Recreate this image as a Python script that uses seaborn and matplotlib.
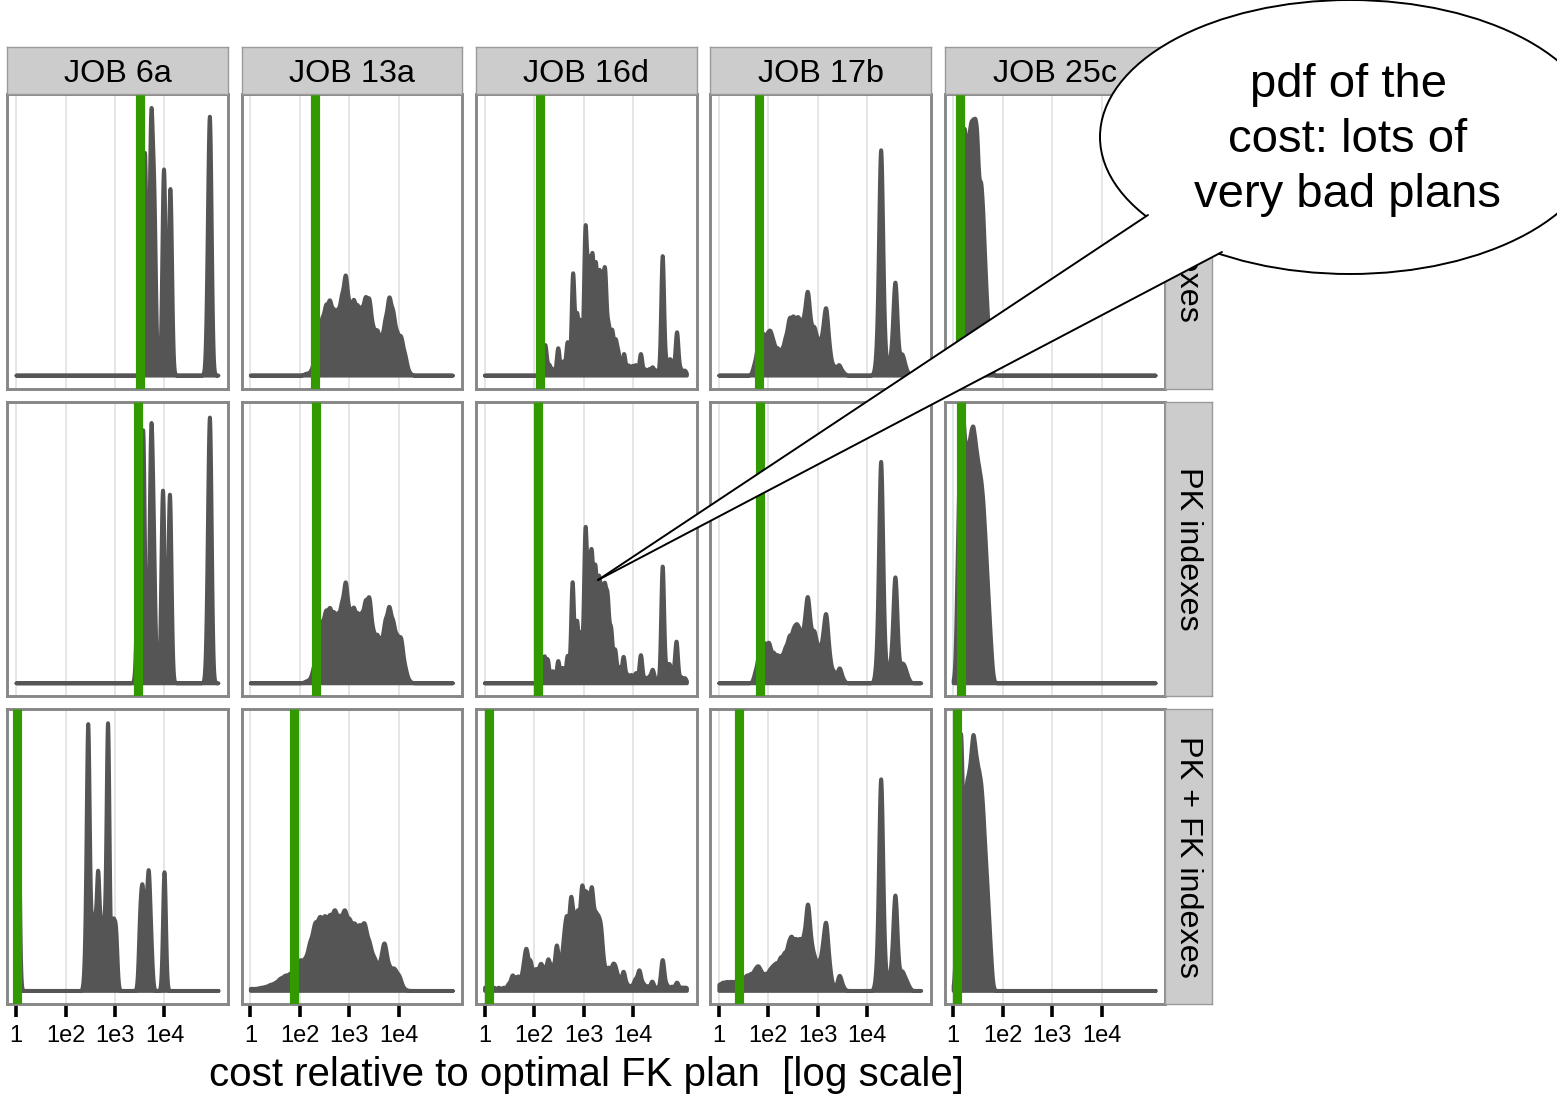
import numpy as np
import matplotlib
matplotlib.use("Agg")
import matplotlib.pyplot as plt
import seaborn as sns
from matplotlib.patches import Ellipse, Polygon
from matplotlib.lines import Line2D
from matplotlib.transforms import Affine2D

# ---------------------------------------------------------------- data
queries = ["JOB 6a", "JOB 13a", "JOB 16d", "JOB 17b", "JOB 25c"]
index_configs = ["No indexes", "PK indexes", "PK + FK indexes"]
tick_values = [0, 1, 2, 3]                 # positions on the log axis
tick_labels = ["1", "1e2", "1e3", "1e4"]
x_title = "cost relative to optimal FK plan  [log scale]"
callout_text = "pdf of the\ncost: lots of\nvery bad plans"

# cost of the plan that was picked (green line), one value per query
chosen_none = [2.515, 1.307, 1.131, 0.818, 0.131]
chosen_pk = [2.455, 1.323, 1.081, 0.838, 0.160]
chosen_pkfk = [0.010, 0.889, 0.081, 0.414, 0.071]

# kernel bandwidth of each density (log units)
bw_none = [0.033, 0.04, 0.03, 0.04, 0.025]
bw_pk = [0.033, 0.04, 0.03, 0.04, 0.025]
bw_pkfk = [0.03, 0.05, 0.035, 0.04, 0.025]

# plan cost clusters (log10 of relative cost) and their weights
# --- JOB 6a
pos_6a_none = [2.595, 2.72, 2.785, 2.98, 3.11, 3.875, 3.915]
w_6a_none = [228, 245, 160, 211, 191, 90, 215]
pos_6a_pk = [2.46, 2.56, 2.72, 2.775, 2.96, 3.10, 3.875, 3.915]
w_6a_pk = [110, 251, 226, 110, 192, 188, 85, 218]
pos_6a_pkfk = [0.03, 1.40, 1.45, 1.52, 1.58, 1.65, 1.72, 1.78, 1.85,
               1.95, 2.01, 2.50, 2.55, 2.61, 2.67, 2.72, 2.99]
w_6a_pkfk = [250, 30, 250, 50, 60, 110, 55, 50, 258,
             60, 55, 60, 80, 60, 100, 40, 116]
# --- JOB 13a
pos_13a_none = [1.12, 1.20, 1.28, 1.36, 1.44, 1.52, 1.60, 1.68, 1.76, 1.84,
                1.92, 2.00, 2.08, 2.16, 2.24, 2.32, 2.40, 2.48, 2.56, 2.64,
                2.72, 2.80, 2.88, 2.96, 3.04, 3.12, 3.20]
w_13a_none = [1.6, 2.2, 10.3, 32.2, 46.1, 57.6, 62.1, 52.6, 52.1, 63.8,
              86.4, 54.8, 62.5, 56.3, 53.8, 64.3, 64.2, 36.7, 37.4, 28.8,
              45.2, 66.8, 52.7, 33.7, 32.9, 17.2, 2.7]
pos_13a_pk = [1.12, 1.20, 1.28, 1.36, 1.44, 1.52, 1.60, 1.68, 1.76, 1.84,
              1.92, 2.00, 2.08, 2.16, 2.24, 2.32, 2.40, 2.48, 2.56, 2.64,
              2.72, 2.80, 2.88, 2.96, 3.04, 3.12, 3.20]
w_13a_pk = [1.5, 2.9, 13.0, 33.7, 47.9, 57.7, 59.8, 55.6, 54.0, 61.9,
            84.8, 54.2, 60.8, 54.5, 53.9, 65.6, 70.7, 38.8, 38.7, 32.1,
            50.3, 62.8, 48.9, 36.7, 38.0, 12.8, 2.1]
pos_13a_pkfk = [0.0, 0.1, 0.2, 0.3, 0.4, 0.5, 0.6, 0.7, 0.8, 0.9,
                1.0, 1.1, 1.2, 1.3, 1.4, 1.5, 1.6, 1.7, 1.8, 1.9,
                2.0, 2.1, 2.2, 2.3, 2.4, 2.5, 2.6, 2.7, 2.8, 2.9,
                3.0, 3.1]
w_13a_pkfk = [1.8, 1.5, 2.4, 3.0, 4.7, 6.1, 9.6, 11.9, 13.1, 17.0,
              24.3, 23.7, 37.6, 53.3, 57.3, 57.5, 57.9, 63.4, 56.3, 63.8,
              54.6, 51.8, 50.0, 54.1, 37.5, 25.1, 18.5, 41.5, 17.7, 17.8,
              12.4, 1.3]
# --- JOB 16d
pos_16d_none = [1.15, 1.22, 1.30, 1.37, 1.48, 1.58, 1.67, 1.78, 1.86, 1.93,
                2.03, 2.10, 2.17, 2.24, 2.31, 2.37, 2.43, 2.50, 2.57, 2.64,
                2.70, 2.81, 2.90, 2.98, 3.05, 3.15, 3.24, 3.32, 3.39, 3.47,
                3.59, 3.67, 3.74, 3.80, 3.88, 3.96, 4.04]
w_16d_none = [15, 30, 10, 6, 28, 14, 34, 103, 58, 52,
              146, 105, 112, 103, 90, 80, 95, 45, 42, 32,
              20, 22, 10, 9, 10, 22, 6, 6, 8, 5,
              122, 12, 15, 8, 44, 6, 5]
pos_16d_pk = [1.12, 1.20, 1.27, 1.37, 1.48, 1.57, 1.67, 1.77, 1.86, 1.94,
              2.03, 2.10, 2.16, 2.23, 2.30, 2.36, 2.42, 2.48, 2.55, 2.63,
              2.71, 2.80, 2.88, 2.96, 3.05, 3.15, 3.24, 3.32, 3.39, 3.47,
              3.59, 3.67, 3.73, 3.80, 3.87, 3.96, 4.04]
w_16d_pk = [12, 25, 22, 12, 22, 15, 27, 100, 60, 48,
            148, 100, 112, 105, 90, 75, 80, 75, 50, 32,
            15, 26, 8, 8, 10, 28, 5, 6, 13, 4,
            116, 12, 17, 8, 41, 6, 5]
pos_16d_pkfk = [0.0, 0.08, 0.18, 0.28, 0.38, 0.48, 0.56, 0.64, 0.70, 0.78,
                0.84, 0.92, 1.00, 1.06, 1.13, 1.20, 1.28, 1.36, 1.45, 1.53,
                1.60, 1.66, 1.74, 1.81, 1.88, 1.96, 2.03, 2.09, 2.16, 2.23,
                2.29, 2.35, 2.42, 2.50, 2.58, 2.64, 2.71, 2.80, 2.88, 2.96,
                3.04, 3.12, 3.20, 3.28, 3.38, 3.48, 3.59, 3.68, 3.78, 3.88,
                3.98, 4.06]
w_16d_pkfk = [3, 3, 3, 3, 3, 6, 14, 10, 10, 18,
              35, 26, 15, 15, 22, 18, 28, 22, 42, 22,
              40, 58, 80, 55, 65, 88, 70, 65, 85, 55,
              50, 48, 18, 20, 20, 18, 10, 18, 5, 4,
              10, 19, 6, 4, 9, 3, 30, 5, 4, 8,
              3, 3]
# --- JOB 17b
pos_17b_none = [0.72, 0.80, 0.88, 0.96, 1.03, 1.10, 1.18, 1.26, 1.34, 1.42,
                1.50, 1.58, 1.65, 1.72, 1.79, 1.86, 1.93, 2.01, 2.09, 2.16,
                2.23, 2.32, 2.42, 2.50, 3.20, 3.27, 3.34, 3.44, 3.50, 3.56,
                3.63, 3.70, 3.77]
w_17b_none = [10, 30, 35, 30, 34, 25, 22, 20, 30, 48,
              48, 45, 38, 40, 70, 32, 38, 28, 30, 58,
              20, 8, 10, 3, 20, 222, 20, 8, 15, 88,
              10, 18, 6]
pos_17b_pk = [0.74, 0.82, 0.90, 0.97, 1.02, 1.10, 1.18, 1.26, 1.34, 1.42,
              1.50, 1.57, 1.64, 1.72, 1.79, 1.86, 1.93, 2.01, 2.09, 2.16,
              2.23, 2.32, 2.43, 2.50, 3.20, 3.27, 3.34, 3.44, 3.50, 3.56,
              3.63, 3.70, 3.76, 3.82]
w_17b_pk = [10, 28, 32, 20, 26, 24, 22, 21, 28, 38,
            40, 42, 38, 40, 70, 33, 40, 28, 30, 58,
            20, 10, 14, 3, 20, 212, 20, 9, 16, 98,
            10, 14, 10, 3]
pos_17b_pkfk = [0.0, 0.08, 0.16, 0.24, 0.32, 0.40, 0.48, 0.56, 0.64, 0.72,
                0.79, 0.86, 0.94, 1.02, 1.09, 1.16, 1.24, 1.32, 1.40, 1.47,
                1.55, 1.63, 1.71, 1.79, 1.86, 1.93, 2.01, 2.09, 2.16, 2.23,
                2.32, 2.43, 2.50, 3.20, 3.27, 3.34, 3.44, 3.50, 3.56, 3.63,
                3.70, 3.77, 3.83]
w_17b_pkfk = [5, 6.5, 7, 7, 7, 8, 9.5, 12, 13, 15,
              18, 13, 13, 15, 17, 20, 26, 29, 34, 40,
              40, 40, 40, 72, 32, 24, 22, 30, 56, 18,
              3, 14, 3, 18, 199, 18, 8, 15, 86, 10,
              15, 8, 3]
# --- JOB 25c
pos_25c_none = [0.08, 0.12, 0.16, 0.20, 0.24, 0.28, 0.32, 0.36, 0.40, 0.44,
                0.48, 0.52, 0.56, 0.60, 0.64, 0.68, 0.72, 0.76, 0.80]
w_25c_none = [4, 54, 121, 165, 163, 135, 160, 167, 167, 169,
              164, 122, 131, 109, 75, 47, 24, 9, 1]
pos_25c_pk = [0.04, 0.08, 0.12, 0.16, 0.20, 0.24, 0.28, 0.32, 0.36, 0.40,
              0.44, 0.48, 0.52, 0.56, 0.60, 0.64, 0.68, 0.72, 0.76, 0.80]
w_25c_pk = [9, 77, 143, 170, 174, 149, 148, 153, 161, 166,
            155, 145, 137, 130, 118, 96, 72, 48, 25, 5]
pos_25c_pkfk = [0.04, 0.08, 0.12, 0.16, 0.20, 0.24, 0.28, 0.32, 0.36, 0.40,
                0.44, 0.48, 0.52, 0.56, 0.60, 0.64, 0.68, 0.72, 0.76, 0.80]
w_25c_pkfk = [15, 94, 152, 176, 93, 123, 133, 136, 148, 165,
              152, 143, 137, 131, 115, 90, 70, 46, 23, 3]

panel_positions = [
    [pos_6a_none, pos_13a_none, pos_16d_none, pos_17b_none, pos_25c_none],
    [pos_6a_pk, pos_13a_pk, pos_16d_pk, pos_17b_pk, pos_25c_pk],
    [pos_6a_pkfk, pos_13a_pkfk, pos_16d_pkfk, pos_17b_pkfk, pos_25c_pkfk],
]
panel_weights = [
    [w_6a_none, w_13a_none, w_16d_none, w_17b_none, w_25c_none],
    [w_6a_pk, w_13a_pk, w_16d_pk, w_17b_pk, w_25c_pk],
    [w_6a_pkfk, w_13a_pkfk, w_16d_pkfk, w_17b_pkfk, w_25c_pkfk],
]
panel_bw = [bw_none, bw_pk, bw_pkfk]
panel_chosen = [chosen_none, chosen_pk, chosen_pkfk]

# ---------------------------------------------------------------- style
sns.set_theme(style="white")
plt.rcParams["font.family"] = ["Liberation Sans", "DejaVu Sans"]

DENSITY = "#555555"
GREEN = "#339900"
FRAME = "#878787"
STRIP = "#cccccc"
GRID = "#e2e2e2"

W, H = 1557, 1095
fig = plt.figure(figsize=(W / 100, H / 100), dpi=100)
fig.patch.set_facecolor("white")


def rect(x, y, w, h):
    return [x / W, 1 - (y + h) / H, w / W, h / H]


def fx(x):
    return x / W


def fy(y):
    return 1 - y / H


col_left = [7.5, 241.8, 476.0, 710.3, 944.6]
panel_w = 220.5
row_top = [94.0, 401.7, 709.3]
panel_h = 294.5
x_range = (-0.172, 4.283)
support = (0.0, 4.08)


def draw_density(ax, positions, weights, bw):
    u = np.asarray(positions, float)
    w = np.asarray(weights, float)
    spread = np.sqrt(np.cov(u, aweights=w))
    sns.kdeplot(x=u, weights=w, bw_method=bw / spread, cut=1000,
                clip=support, gridsize=2000, fill=True, alpha=1.0,
                color=DENSITY, linewidth=2.8, ax=ax)
    coll = ax.collections[-1]
    coll.set_joinstyle("round")
    coll.set_capstyle("round")
    # express the density in the units of the cluster weights (count scale)
    scale = w.sum() * bw * np.sqrt(2 * np.pi)
    coll.set_transform(Affine2D().scale(1.0, scale) + ax.transData)
    return coll.get_paths()[0].vertices[:, 1].max() * scale


for r in range(3):
    row_axes = []
    row_max = 0.0
    for c in range(5):
        ax = fig.add_axes(rect(col_left[c], row_top[r], panel_w, panel_h))
        ax.set_facecolor("white")
        m = draw_density(ax, panel_positions[r][c], panel_weights[r][c],
                         panel_bw[r][c])
        row_max = max(row_max, m)
        ax.axvline(panel_chosen[r][c], color=GREEN, lw=6.6, zorder=3,
                   solid_capstyle="butt")
        ax.set_xlim(*x_range)
        ax.set_xticks(tick_values)
        ax.grid(axis="x", color=GRID, linewidth=1.2)
        ax.grid(axis="y", visible=False)
        ax.set_axisbelow(True)
        ax.set_yticks([])
        ax.set_xlabel("")
        ax.set_ylabel("")
        for sp in ax.spines.values():
            sp.set_color(FRAME)
            sp.set_linewidth(2.1)
            sp.set_visible(True)
        if r == 2:
            ax.set_xticklabels(tick_labels)
            ax.tick_params(axis="x", length=9, width=2.6, color="black",
                           labelsize=17, pad=6, direction="out",
                           labelcolor="black", bottom=True)
        else:
            ax.tick_params(axis="x", length=0, labelbottom=False)
        row_axes.append(ax)
    for ax in row_axes:
        ax.set_ylim(-0.05 * row_max, 1.05 * row_max)

# strips on top
for c, q in enumerate(queries):
    sax = fig.add_axes(rect(col_left[c], 47.0, panel_w, 47.0))
    sax.set_facecolor(STRIP)
    sax.set_xticks([])
    sax.set_yticks([])
    for sp in sax.spines.values():
        sp.set_color("#9a9a9a")
        sp.set_linewidth(1.0)
    fig.text(fx(col_left[c] + panel_w / 2), fy(82.5), q, ha="center",
             va="baseline", fontsize=23.3, color="black")

# strips on the right
for r, lab in enumerate(index_configs):
    sax = fig.add_axes(rect(1165.0, row_top[r], 46.5, panel_h))
    sax.set_facecolor(STRIP)
    sax.set_xticks([])
    sax.set_yticks([])
    for sp in sax.spines.values():
        sp.set_color("#9a9a9a")
        sp.set_linewidth(1.0)
    fig.text(fx(1187.5), fy(row_top[r] + panel_h / 2), lab, rotation=270,
             ha="center", va="center", fontsize=23.3, color="black")

fig.text(fx(586), fy(1086), x_title, ha="center", va="baseline",
         fontsize=29, color="black")

# ---------------------------------------------------------------- callout
bubble = Ellipse((fx(1350), fy(137)), 500 / W, 274 / H,
                 transform=fig.transFigure, facecolor="white",
                 edgecolor="black", linewidth=1.4, zorder=10)
fig.add_artist(bubble)
tip = (598, 580)
p1 = (1148, 215)
p2 = (1222, 252)
p1_in = (1156, 210)
p2_in = (1230, 248)
inner = (1250, 190)
tail = Polygon([(fx(x), fy(y)) for x, y in [tip, p1_in, inner, p2_in]],
               closed=True, transform=fig.transFigure, facecolor="white",
               edgecolor="none", zorder=11)
fig.add_artist(tail)
for p in (p1, p2):
    fig.add_artist(Line2D([fx(tip[0]), fx(p[0])], [fy(tip[1]), fy(p[1])],
                          transform=fig.transFigure, color="black",
                          linewidth=1.4, zorder=12))
fig.text(fx(1348), fy(140), callout_text, ha="center", va="center",
         multialignment="center", fontsize=34, linespacing=1.33,
         color="black", zorder=13)

fig.savefig("out.png", dpi=100)
